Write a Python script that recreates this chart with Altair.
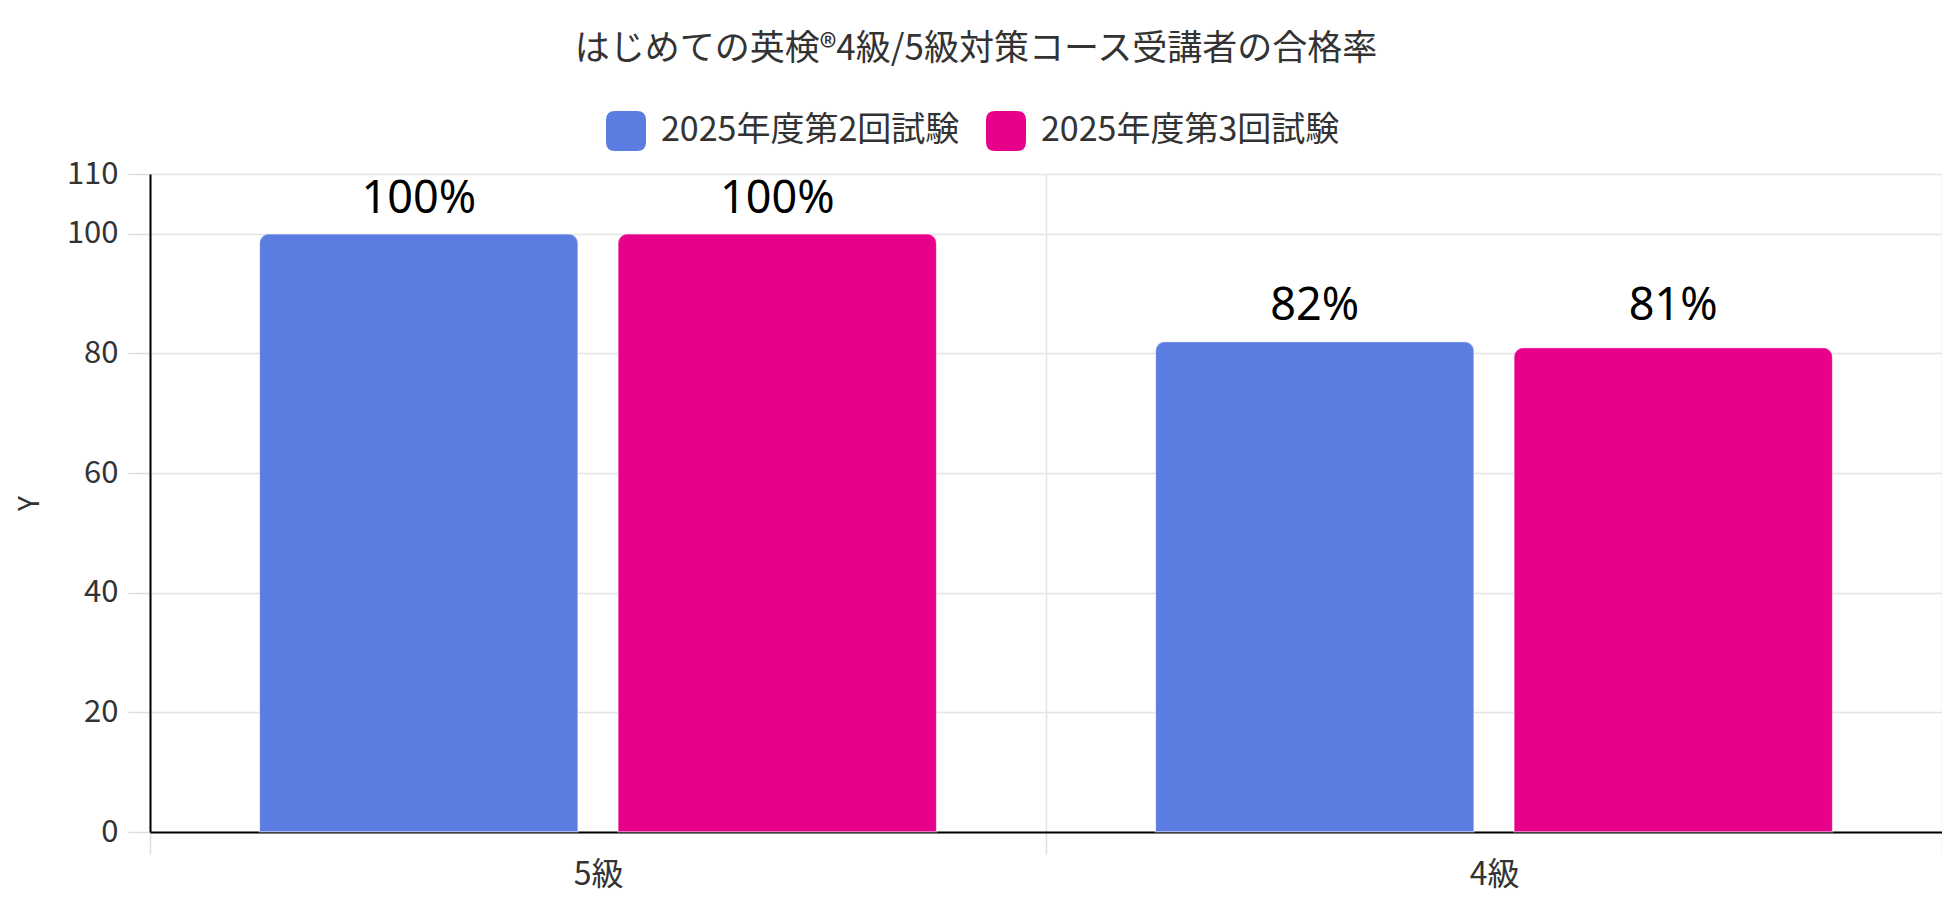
import altair as alt
import pandas as pd

categories = ["5級", "4級"]
series = ["2025年度第2回試験", "2025年度第3回試験"]
values_round2 = [100, 82]
values_round3 = [100, 81]
colors = ["#5b7de2", "#e6008a"]
y_ticks = [0, 20, 40, 60, 80, 100, 110]

rows = []
for i, c in enumerate(categories):
    rows.append({"cat": c, "series": series[0], "value": values_round2[i]})
    rows.append({"cat": c, "series": series[1], "value": values_round3[i]})
df = pd.DataFrame(rows)
df["label"] = df["value"].astype(int).astype(str) + "%"

FONT = "Noto Sans CJK JP"
W, H = 1792, 658

rounded = ("M -0.55 -1 L 0.55 -1 Q 1 -1 1 -0.55 L 1 0.55 Q 1 1 0.55 1 "
           "L -0.55 1 Q -1 1 -1 0.55 L -1 -0.55 Q -1 -1 -0.55 -1 Z")

x_enc = alt.X("cat:N", sort=categories, title=None,
              scale=alt.Scale(paddingInner=0, paddingOuter=0),
              axis=alt.Axis(labelAngle=0, labelFont=FONT, labelFontSize=32,
                            labelColor="#333333", labelPadding=5,
                            domainColor="#000000", domainWidth=2,
                            tickBand="extent", tickSize=22, tickColor="#dddddd",
                            tickWidth=1.5, grid=True, gridColor="#e4e4e4",
                            gridWidth=1.5))
xoff = alt.XOffset("series:N", sort=series,
                   scale=alt.Scale(paddingInner=0.111, paddingOuter=0.305))
color_enc = alt.Color("series:N", sort=series,
                      scale=alt.Scale(domain=series, range=colors),
                      legend=alt.Legend(title=None, orient="none",
                                        legendX=456, legendY=-63,
                                        direction="horizontal",
                                        symbolType=rounded, symbolSize=1600,
                                        symbolStrokeWidth=0,
                                        labelFont=FONT, labelFontSize=34,
                                        labelColor="#333333", labelOffset=15,
                                        labelLimit=0, columnPadding=26))

bars = alt.Chart(df).mark_bar(
    cornerRadiusTopLeft=10, cornerRadiusTopRight=10,
    strokeWidth=1.5, strokeOpacity=0.35, stroke="#ffffff"
).encode(
    x=x_enc,
    xOffset=xoff,
    y=alt.Y("value:Q", title="Y",
            scale=alt.Scale(domain=[0, 110], nice=False),
            axis=alt.Axis(values=y_ticks, labelFont=FONT, labelFontSize=31,
                          labelColor="#333333", labelPadding=10,
                          domainColor="#000000", domainWidth=2,
                          tickSize=22, tickColor="#dddddd", tickWidth=1.5,
                          gridColor="#e4e4e4", gridWidth=1.5,
                          titleFont=FONT, titleFontSize=28,
                          titleFontWeight="normal", titleColor="#333333",
                          titleX=-120, titleY=H / 2, titleAngle=-90,
                          titleAlign="center", titleBaseline="middle")),
    color=color_enc,
)

labels = alt.Chart(df).transform_joinaggregate(
    gmax="max(value)", groupby=["cat"]
).mark_text(
    font="Noto Sans", fontSize=45, color="#000000", baseline="middle",
    dy=-35
).encode(
    x=alt.X("cat:N", sort=categories),
    xOffset=xoff,
    y=alt.Y("gmax:Q"),
    text="label:N",
)

chart = alt.layer(bars, labels).properties(
    width=W, height=H,
    autosize=alt.AutoSizeParams(type="none"),
    padding={"left": 142, "top": 166, "right": 0, "bottom": 70},
    title=alt.Title("はじめての英検®4級/5級対策コース受講者の合格率",
                    font=FONT, fontSize=35, fontWeight="normal",
                    color="#333333", anchor="middle", offset=44, dx=-70),
).configure_view(stroke=None).configure_axis(labelFont=FONT)

chart.save("out.html", embed_options={"renderer": "svg", "actions": False})
